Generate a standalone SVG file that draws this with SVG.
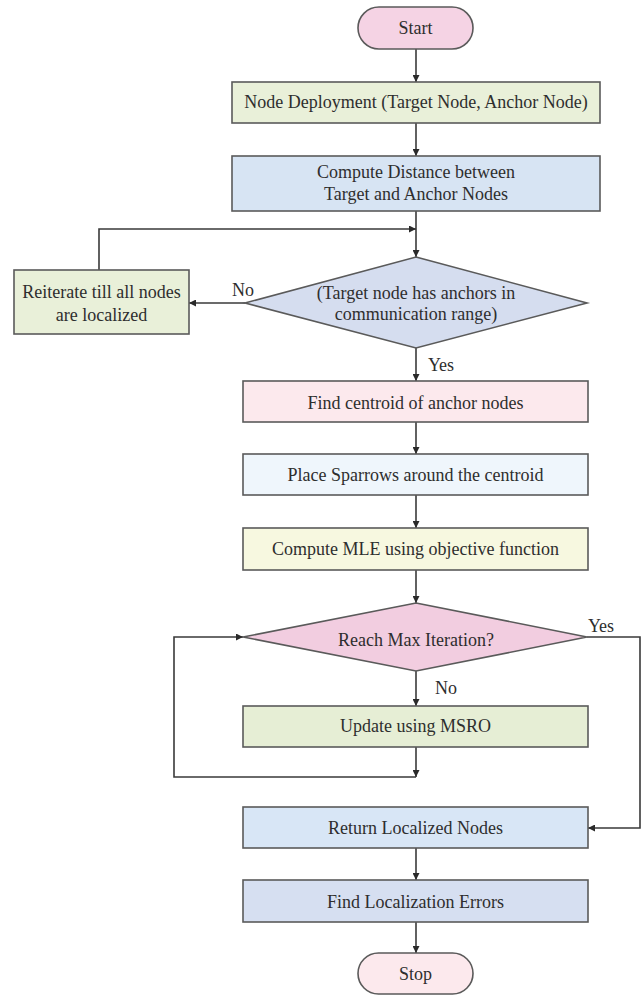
<svg xmlns="http://www.w3.org/2000/svg" width="641" height="996" viewBox="0 0 641 996">
<style>
.n{stroke:#5a5a5a;stroke-width:1.6}
.t{font-family:"Liberation Serif","Times New Roman",serif;font-size:18px;fill:#2e2e2e;text-anchor:middle}
.c{fill:none;stroke:#3a3a3a;stroke-width:1.6}
</style>
<defs>
<marker id="ah" viewBox="0 0 10 10" refX="10" refY="5" markerWidth="7" markerHeight="7" markerUnits="userSpaceOnUse" orient="auto">
<path d="M0,0 L10,5 L0,10 Z" fill="#2a2a2a"/>
</marker>
</defs>
<rect width="641" height="996" fill="#ffffff"/>
<g id="connectors">
<path class="c" d="M416,49 V82" marker-end="url(#ah)"/>
<path class="c" d="M416,123 V156" marker-end="url(#ah)"/>
<path class="c" d="M416,211 V257" marker-end="url(#ah)"/>
<path class="c" d="M99,270 V229 H416" marker-end="url(#ah)"/>
<path class="c" d="M245,303 H189" marker-end="url(#ah)"/>
<path class="c" d="M416,348 V381" marker-end="url(#ah)"/>
<path class="c" d="M416,422 V454" marker-end="url(#ah)"/>
<path class="c" d="M416,495 V528" marker-end="url(#ah)"/>
<path class="c" d="M416,570 V603" marker-end="url(#ah)"/>
<path class="c" d="M416,671 V706" marker-end="url(#ah)"/>
<path class="c" d="M416,747 V777" marker-end="url(#ah)"/>
<path class="c" d="M416,777 H174 V637 H243" marker-end="url(#ah)"/>
<path class="c" d="M587,637 H640 V828 H588" marker-end="url(#ah)"/>
<path class="c" d="M416,848 V880" marker-end="url(#ah)"/>
<path class="c" d="M416,922 V953" marker-end="url(#ah)"/>
<text class="t" x="243" y="296">No</text>
<text class="t" x="441" y="371">Yes</text>
<text class="t" x="601" y="632">Yes</text>
<text class="t" x="446" y="694">No</text>
</g>
<g id="start">
<rect class="n" x="358" y="7" width="115" height="42" rx="21" fill="#f5d3e4"/>
<text class="t" x="415.5" y="34">Start</text>
</g>
<g id="deploy">
<rect class="n" x="232" y="82" width="368" height="41" fill="#e9f0d9"/>
<text class="t" x="416" y="108">Node Deployment (Target Node, Anchor Node)</text>
</g>
<g id="distance">
<rect class="n" x="232" y="156" width="368" height="55" fill="#d7e4f3"/>
<text class="t" x="416" y="178">Compute Distance between</text>
<text class="t" x="416" y="200">Target and Anchor Nodes</text>
</g>
<g id="decision1">
<polygon class="n" points="416,257 587,303 416,348 245,303" fill="#d5ddef"/>
<text class="t" x="416" y="299">(Target node has anchors in</text>
<text class="t" x="416" y="320">communication range)</text>
</g>
<g id="reiterate">
<rect class="n" x="14" y="270" width="175" height="64" fill="#e9f0d9"/>
<text class="t" x="101.5" y="298">Reiterate till all nodes</text>
<text class="t" x="101.5" y="321">are localized</text>
</g>
<g id="centroid">
<rect class="n" x="243" y="381" width="345" height="41" fill="#fce9ed"/>
<text class="t" x="415.5" y="409">Find centroid of anchor nodes</text>
</g>
<g id="sparrows">
<rect class="n" x="243" y="454" width="345" height="41" fill="#eff6fc"/>
<text class="t" x="415.5" y="481">Place Sparrows around the centroid</text>
</g>
<g id="mle">
<rect class="n" x="243" y="528" width="345" height="42" fill="#f7f8e0"/>
<text class="t" x="415.5" y="555">Compute MLE using objective function</text>
</g>
<g id="decision2">
<polygon class="n" points="416,603 587,637 416,671 243,637" fill="#f2cde0"/>
<text class="t" x="416" y="646">Reach Max Iteration?</text>
</g>
<g id="update">
<rect class="n" x="243" y="706" width="345" height="41" fill="#e6eed5"/>
<text class="t" x="415.5" y="732">Update using MSRO</text>
</g>
<g id="return">
<rect class="n" x="243" y="807" width="345" height="41" fill="#d8e6f6"/>
<text class="t" x="415.5" y="834">Return Localized Nodes</text>
</g>
<g id="errors">
<rect class="n" x="243" y="880" width="345" height="42" fill="#d6dff1"/>
<text class="t" x="415.5" y="908">Find Localization Errors</text>
</g>
<g id="stop">
<rect class="n" x="358" y="953" width="115" height="41" rx="20.5" fill="#fce9ed"/>
<text class="t" x="415.5" y="980">Stop</text>
</g>
</svg>
